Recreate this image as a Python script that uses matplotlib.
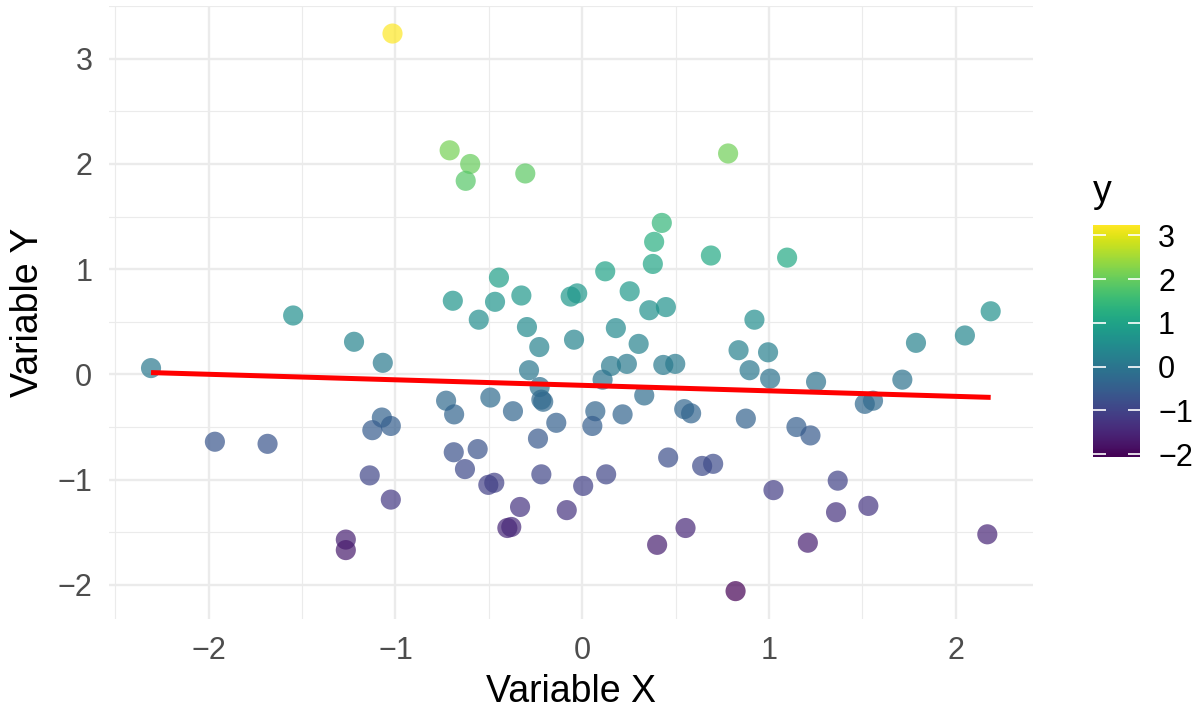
import numpy as np
import matplotlib
matplotlib.use("Agg")
import matplotlib.pyplot as plt
from matplotlib.ticker import MultipleLocator

plt.rcParams['font.family'] = ['Liberation Sans', 'DejaVu Sans']

x_vals = [-1.016, -0.71, -0.60, -0.624, -0.305, 0.781, 0.426, 0.385, 0.378, 0.689,
          1.097, 0.123, -0.446, -0.693, -0.467, -0.326, -0.062, -0.027, 0.254, 0.359,
          0.448, -1.548, -0.554, -0.296, 0.922, 2.187, 0.180, 2.049, 1.787, 1.714,
          1.513, 1.557, 1.252, 0.837, 0.995, 0.896, 1.006, 0.876, 1.147, 1.222,
          0.302, 0.154, 0.239, 0.109, 0.434, 0.498, 0.332, 0.070, 0.054, 0.216,
          0.546, 0.583, 0.460, 0.642, 0.701, 0.128, 0.005, 1.024, 1.368, 1.359,
          1.532, 0.553, 0.401, 1.208, 2.169, 0.821, -2.309, -1.222, -1.068, -1.967,
          -1.685, -1.073, -1.124, -1.025, -1.138, -1.025, -1.266, -1.266, -0.729, -0.686,
          -0.492, -0.371, -0.285, -0.230, -0.228, -0.219, -0.209, -0.139, -0.237, -0.688,
          -0.560, -0.628, -0.503, -0.471, -0.219, -0.333, -0.401, -0.380, -0.083, -0.044]
y_vals = [3.24, 2.13, 2.00, 1.84, 1.91, 2.10, 1.44, 1.26, 1.05, 1.13,
          1.11, 0.98, 0.92, 0.70, 0.69, 0.75, 0.74, 0.77, 0.79, 0.61,
          0.64, 0.56, 0.52, 0.45, 0.52, 0.60, 0.44, 0.37, 0.30, -0.05,
          -0.28, -0.25, -0.07, 0.23, 0.21, 0.04, -0.04, -0.42, -0.50, -0.58,
          0.29, 0.08, 0.10, -0.05, 0.09, 0.10, -0.20, -0.35, -0.49, -0.38,
          -0.33, -0.37, -0.79, -0.87, -0.85, -0.95, -1.06, -1.10, -1.01, -1.31,
          -1.25, -1.46, -1.62, -1.60, -1.52, -2.06, 0.06, 0.31, 0.11, -0.64,
          -0.66, -0.41, -0.53, -0.49, -0.96, -1.19, -1.57, -1.67, -0.25, -0.38,
          -0.22, -0.35, 0.04, 0.26, -0.12, -0.24, -0.26, -0.46, -0.61, -0.74,
          -0.71, -0.90, -1.05, -1.03, -0.95, -1.26, -1.46, -1.45, -1.29, 0.33]

x_ticks = [-2, -1, 0, 1, 2]
y_ticks = [-2, -1, 0, 1, 2, 3]
x_label = "Variable X"
y_label = "Variable Y"
legend_title = "y"

x = np.array(x_vals)
y = np.array(y_vals)

fig = plt.figure(figsize=(11.93, 7.08), dpi=100)
ax = fig.add_axes([0.0914, 0.1257, 0.8656 - 0.0914, 0.992 - 0.1257])

vmin, vmax = y.min(), y.max()
sc = ax.scatter(x, y, c=y, cmap='viridis', vmin=vmin, vmax=vmax, s=210,
                alpha=0.7, linewidths=0, zorder=3)

slope, intercept = np.polyfit(x, y, 1)
xl = np.array([x.min(), x.max()])
ax.plot(xl, intercept + slope * xl, color='red', lw=3.6, zorder=4,
        solid_capstyle='butt')

xr = x.max() - x.min()
yr = y.max() - y.min()
ax.set_xlim(x.min() - 0.05 * xr, x.max() + 0.05 * xr)
ax.set_ylim(y.min() - 0.05 * yr, y.max() + 0.05 * yr)

ax.set_xticks(x_ticks)
ax.set_yticks(y_ticks)
ax.set_xticklabels([str(t).replace('-', '\u2212') for t in x_ticks])
ax.set_yticklabels([str(t).replace('-', '\u2212') for t in y_ticks])
ax.xaxis.set_minor_locator(MultipleLocator(0.5))
ax.yaxis.set_minor_locator(MultipleLocator(0.5))
ax.grid(which='major', color='#EBEBEB', lw=1.7, zorder=0)
ax.grid(which='minor', color='#EBEBEB', lw=0.85, zorder=0)
ax.set_axisbelow(True)
for s in ax.spines.values():
    s.set_visible(False)
ax.tick_params(which='both', length=0, labelsize=22, labelcolor='#4D4D4D')
ax.tick_params(axis='x', pad=12)
ax.tick_params(axis='y', pad=12)
ax.set_xlabel(x_label, fontsize=27, labelpad=6)
ax.set_ylabel(y_label, fontsize=27, labelpad=8)

cax = fig.add_axes([1092.7 / 1193, 1 - 456.7 / 708, 47.3 / 1193, 231.7 / 708])
cb = fig.colorbar(sc, cax=cax)
cb.solids.set_alpha(1)
cb.outline.set_visible(False)
cb.set_ticks(y_ticks)
cb.set_ticklabels([str(t).replace('-', '\u2212') for t in y_ticks])
cax.tick_params(direction='in', color='white', length=9, width=1.2,
                left=True, right=True, labelleft=False, labelright=True,
                labelsize=22, labelcolor='black', pad=13)
fig.text(1093 / 1193, 1 - 192 / 708, legend_title, fontsize=27, ha='left', va='center')

fig.savefig("out.png", dpi=100)
